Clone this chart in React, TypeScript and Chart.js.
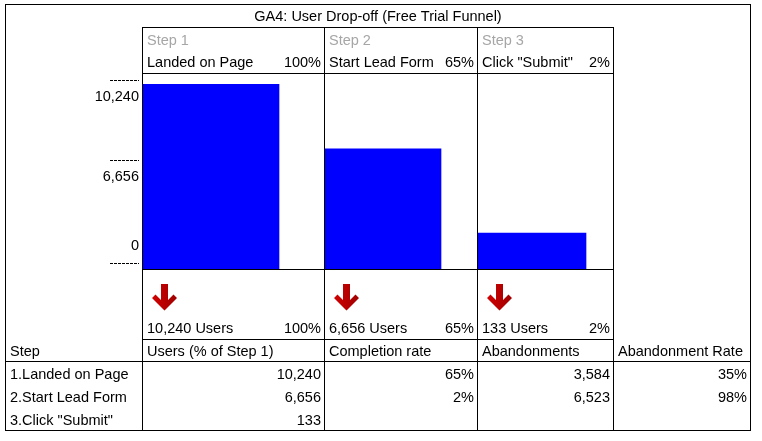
import React, { useEffect, useRef } from 'react';
import { Chart, registerables } from 'chart.js';

Chart.register(...registerables);

// ---------- data ----------
const TITLE = 'GA4: User Drop-off (Free Trial Funnel)';
const STEP_LABELS = ['Step 1', 'Step 2', 'Step 3'];
const STEP_NAMES = ['Landed on Page', 'Start Lead Form', 'Click "Submit"'];
const USERS = [10240, 6656, 133];
const PCT_OF_FIRST = [100, 65, 2];
const COMPLETION_RATE = [65, 2];
const ABANDONMENTS = [3584, 6523];
const ABANDONMENT_RATE = [35, 98];
const AXIS_TICKS = [10240, 6656, 0];
const TABLE_HEADERS = ['Step', 'Users (% of Step 1)', 'Completion rate', 'Abandonments', 'Abandonment Rate'];

// ---------- layout ----------
const W = 762;
const H = 441;
const COL_X = [5, 142, 324, 477, 613, 750];
const BAR_W = [136, 116, 108];
const Y_TOP = 4;
const Y_TITLE = 27;
const Y_HEAD = 73;
const Y_BASE = 269;
const Y_USERS = 339;
const Y_HEADER = 361;
const Y_BOTTOM = 430;
const BAR_TOP = 84;
const TICK_LABEL_Y = [97, 177, 246];
const TICK_DASH_Y = [80, 160, 263];
const FONT = '14.5px "Liberation Sans", Arial, sans-serif';

const fmt = (n: number) => n.toLocaleString('en-US');

function drawArrow(ctx: CanvasRenderingContext2D, cx: number, top: number) {
  const g = ctx.createLinearGradient(cx - 12, 0, cx + 12, 0);
  g.addColorStop(0, '#d00000');
  g.addColorStop(1, '#a00000');
  ctx.fillStyle = g;
  ctx.beginPath();
  ctx.moveTo(cx - 3.5, top);
  ctx.lineTo(cx + 3.5, top);
  ctx.lineTo(cx + 3.5, top + 16);
  ctx.lineTo(cx + 9, top + 10.5);
  ctx.lineTo(cx + 12.5, top + 14);
  ctx.lineTo(cx, top + 26.5);
  ctx.lineTo(cx - 12.5, top + 14);
  ctx.lineTo(cx - 9, top + 10.5);
  ctx.lineTo(cx - 3.5, top + 16);
  ctx.closePath();
  ctx.fill();
}

const tablePlugin = {
  id: 'funnelTable',
  beforeDraw(chart: any) {
    const ctx = chart.ctx as CanvasRenderingContext2D;
    ctx.save();
    ctx.fillStyle = '#ffffff';
    ctx.fillRect(0, 0, chart.width, chart.height);
    ctx.restore();
  },
  afterDatasetsDraw(chart: any) {
    const ctx = chart.ctx as CanvasRenderingContext2D;
    ctx.save();
    ctx.strokeStyle = '#000000';
    ctx.lineWidth = 1;
    const hline = (x1: number, x2: number, y: number) => {
      ctx.beginPath();
      ctx.moveTo(x1, y + 0.5);
      ctx.lineTo(x2 + 1, y + 0.5);
      ctx.stroke();
    };
    const vline = (x: number, y1: number, y2: number) => {
      ctx.beginPath();
      ctx.moveTo(x + 0.5, y1);
      ctx.lineTo(x + 0.5, y2 + 1);
      ctx.stroke();
    };
    // outer border
    hline(COL_X[0], COL_X[5], Y_TOP);
    hline(COL_X[0], COL_X[5], Y_BOTTOM);
    vline(COL_X[0], Y_TOP, Y_BOTTOM);
    vline(COL_X[5], Y_TOP, Y_BOTTOM);
    // funnel grid
    [Y_TITLE, Y_HEAD, Y_BASE, Y_USERS].forEach((y) => hline(COL_X[1], COL_X[4], y));
    hline(COL_X[0], COL_X[5], Y_HEADER);
    [1, 2, 3, 4].forEach((i) => vline(COL_X[i], Y_TITLE, Y_BOTTOM));

    // axis dashes
    ctx.setLineDash([3, 1]);
    TICK_DASH_Y.forEach((y) => hline(110, 138, y));
    ctx.setLineDash([]);

    ctx.font = FONT;
    ctx.textBaseline = 'middle';
    const text = (s: string, x: number, y: number, align: CanvasTextAlign = 'left', color = '#000000') => {
      ctx.fillStyle = color;
      ctx.textAlign = align;
      ctx.fillText(s, x, y);
    };

    // title
    text(TITLE, (COL_X[0] + COL_X[5]) / 2 + 0.5, 16.5, 'center');

    // axis tick labels
    AXIS_TICKS.forEach((t, i) => text(fmt(t), 139, TICK_LABEL_Y[i], 'right'));

    // step headers, arrows, users row
    STEP_NAMES.forEach((name, i) => {
      const l = COL_X[i + 1] + 5;
      const r = COL_X[i + 2] - 3;
      text(STEP_LABELS[i], l, 40.5, 'left', '#a6a6a6');
      text(name, l, 62.5);
      text(PCT_OF_FIRST[i] + '%', r, 62.5, 'right');
      drawArrow(ctx, COL_X[i + 1] + 22.5, 284);
      text(fmt(USERS[i]) + ' Users', l, 328.5);
      text(PCT_OF_FIRST[i] + '%', r, 328.5, 'right');
    });

    // table header
    TABLE_HEADERS.forEach((h, i) => text(h, COL_X[i] + 5, 351.5));

    // table rows
    const rowY = [374.5, 397.5, 420.5];
    STEP_NAMES.forEach((name, i) => {
      text(`${i + 1}.${name}`, COL_X[0] + 5, rowY[i]);
      text(fmt(USERS[i]), COL_X[2] - 3, rowY[i], 'right');
      if (i < COMPLETION_RATE.length) {
        text(COMPLETION_RATE[i] + '%', COL_X[3] - 3, rowY[i], 'right');
        text(fmt(ABANDONMENTS[i]), COL_X[4] - 3, rowY[i], 'right');
        text(ABANDONMENT_RATE[i] + '%', COL_X[5] - 3, rowY[i], 'right');
      }
    });
    ctx.restore();
  },
};

export default function App() {
  const ref = useRef<HTMLCanvasElement | null>(null);
  useEffect(() => {
    if (!ref.current) return;
    const chart = new Chart(ref.current, {
      type: 'bar',
      data: {
        datasets: USERS.map((v, i) => ({
          label: STEP_NAMES[i],
          data: [{ x: COL_X[i + 1] + 1 + BAR_W[i] / 2, y: v }],
          backgroundColor: '#0000ff',
          borderWidth: 0,
          barThickness: BAR_W[i],
          grouped: false,
          minBarLength: 36,
        })),
      } as any,
      options: {
        animation: false,
        responsive: false,
        events: [],
        layout: { padding: { top: BAR_TOP, bottom: H - Y_BASE, left: 0, right: 0 } },
        scales: {
          x: { type: 'linear', display: false, offset: false, min: 0, max: W },
          y: { type: 'linear', display: false, min: 0, max: Math.max(...USERS) },
        },
        plugins: { legend: { display: false }, tooltip: { enabled: false } },
      } as any,
      plugins: [tablePlugin],
    });
    return () => chart.destroy();
  }, []);
  return (
    <div style={{ position: 'fixed', left: 0, top: 0, width: W, height: H, background: '#fff' }}>
      <canvas ref={ref} width={W} height={H} style={{ display: 'block', width: W, height: H }} />
    </div>
  );
}
